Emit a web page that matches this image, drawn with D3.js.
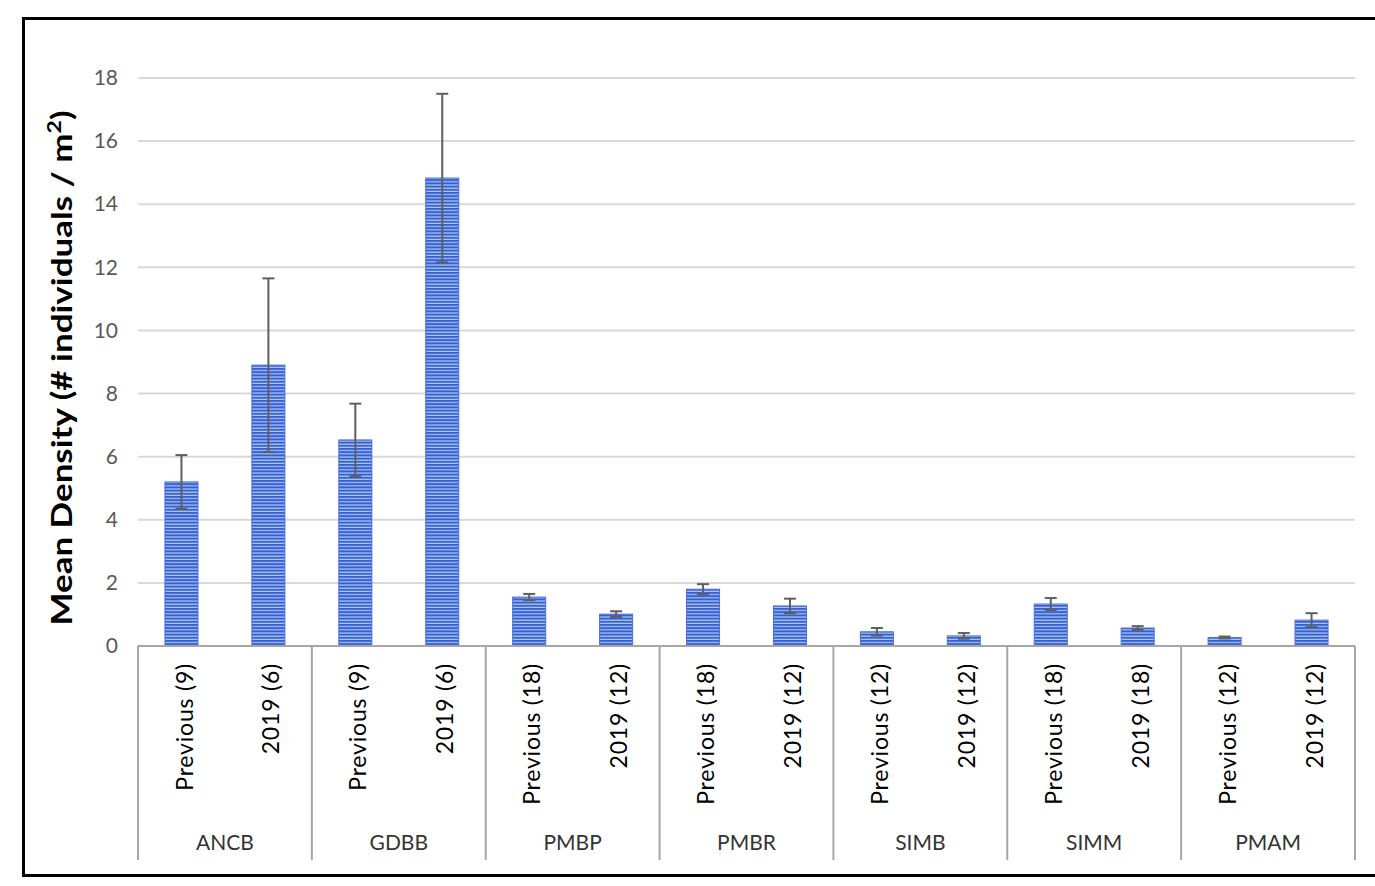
<!DOCTYPE html>
<html>
<head>
<meta charset="utf-8">
<script src="https://cdn.jsdelivr.net/npm/d3@7"></script>
<style>
  body { margin: 0; background: #fff; }
  text { font-family: Lato, "Open Sans", sans-serif; }
</style>
</head>
<body>
<div id="chart"></div>
<script>
// data
var groups = ["ANCB", "GDBB", "PMBP", "PMBR", "SIMB", "SIMM", "PMAM"];
var series = ["Previous", "2019"];
var previousLabels = ["Previous (9)", "Previous (9)", "Previous (18)", "Previous (18)", "Previous (12)", "Previous (18)", "Previous (12)"];
var recentLabels = ["2019 (6)", "2019 (6)", "2019 (12)", "2019 (12)", "2019 (12)", "2019 (18)", "2019 (12)"];
var previousMeans = [5.2, 6.53, 1.55, 1.8, 0.45, 1.33, 0.27];
var previousErr = [0.85, 1.15, 0.1, 0.16, 0.12, 0.19, 0.03];
var recentMeans = [8.9, 14.83, 1.01, 1.27, 0.32, 0.57, 0.82];
var recentErr = [2.75, 2.67, 0.09, 0.23, 0.09, 0.06, 0.22];
var yTicks = [0, 2, 4, 6, 8, 10, 12, 14, 16, 18];

var W = 1375, H = 886;
var plot = {left: 138, right: 1355, top: 78, bottom: 646};

var svg = d3.select("#chart").append("svg")
  .attr("width", W).attr("height", H);

// outer frame (right side runs off the picture)
svg.append("rect")
  .attr("x", 23.5).attr("y", 18.5)
  .attr("width", W + 10).attr("height", 857)
  .attr("fill", "#fff").attr("stroke", "#000").attr("stroke-width", 3);

// stripe pattern for bars
var pat = svg.append("defs").append("pattern")
  .attr("id", "stripes")
  .attr("patternUnits", "userSpaceOnUse")
  .attr("width", 8).attr("height", 3.2);
pat.append("rect").attr("width", 8).attr("height", 3.2).attr("fill", "#3a5dd2");
pat.append("rect").attr("y", 2).attr("width", 8).attr("height", 1.2).attr("fill", "#a8cbf6");

var rows = [];
groups.forEach(function (g, i) {
  rows.push({group: g, s: "Previous", label: previousLabels[i], mean: previousMeans[i], err: previousErr[i]});
  rows.push({group: g, s: "2019", label: recentLabels[i], mean: recentMeans[i], err: recentErr[i]});
});

var x0 = d3.scaleBand().domain(groups).range([plot.left, plot.right]);
var x1 = d3.scaleBand().domain(series).range([0, x0.bandwidth()])
  .paddingInner(0.62).paddingOuter(0.31);
var y = d3.scaleLinear().domain([0, 18]).range([plot.bottom, plot.top]);

// grid lines
svg.append("g").selectAll("line")
  .data(yTicks.slice(1))
  .enter().append("line")
  .attr("x1", plot.left).attr("x2", plot.right)
  .attr("y1", function (d) { return y(d); })
  .attr("y2", function (d) { return y(d); })
  .attr("stroke", "#d9d9d9").attr("stroke-width", 2);

// y axis labels
var yAxis = d3.axisLeft(y).tickValues(yTicks).tickSize(0).tickPadding(20);
var ya = svg.append("g")
  .attr("transform", "translate(" + plot.left + ",0)")
  .call(yAxis);
ya.select(".domain").remove();
ya.selectAll("text")
  .attr("font-size", 21).attr("fill", "#595959")
  .style("font-family", "Lato, sans-serif");

// y title
var title = svg.append("text")
  .attr("transform", "translate(72,368) rotate(-90)")
  .attr("text-anchor", "middle")
  .attr("font-size", 29).attr("font-weight", "bold").attr("fill", "#000")
  .attr("textLength", 515).attr("lengthAdjust", "spacingAndGlyphs");
title.append("tspan").text("Mean Density (# individuals / m");
title.append("tspan").attr("baseline-shift", "super").attr("font-size", 19).text("2");
title.append("tspan").text(")");

// bars
svg.append("g").selectAll("rect")
  .data(rows)
  .enter().append("rect")
  .attr("x", function (d) { return x0(d.group) + x1(d.s); })
  .attr("width", x1.bandwidth())
  .attr("y", function (d) { return y(d.mean); })
  .attr("height", function (d) { return y(0) - y(d.mean); })
  .attr("fill", "url(#stripes)")
  .attr("stroke", "#4a6fd8").attr("stroke-width", 1);

// error bars
var eb = svg.append("g").attr("stroke", "#5f5f5f").attr("stroke-width", 2);
rows.forEach(function (d) {
  var cx = x0(d.group) + x1(d.s) + x1.bandwidth() / 2;
  eb.append("line").attr("x1", cx).attr("x2", cx)
    .attr("y1", y(d.mean + d.err)).attr("y2", y(Math.max(0, d.mean - d.err)));
  [d.mean + d.err, d.mean - d.err].forEach(function (v) {
    if (v < 0) return;
    eb.append("line").attr("x1", cx - 6).attr("x2", cx + 6)
      .attr("y1", y(v)).attr("y2", y(v));
  });
});

// category axis box
var axisG = svg.append("g").attr("stroke", "#a6a6a6").attr("stroke-width", 2);
axisG.append("line")
  .attr("x1", plot.left).attr("x2", plot.right)
  .attr("y1", plot.bottom).attr("y2", plot.bottom);
groups.concat(["end"]).forEach(function (g) {
  var xx = g === "end" ? plot.right : x0(g);
  axisG.append("line")
    .attr("x1", xx).attr("x2", xx)
    .attr("y1", plot.bottom).attr("y2", 860);
});

// series labels (rotated)
svg.append("g").selectAll("text")
  .data(rows)
  .enter().append("text")
  .attr("transform", function (d) {
    var cx = x0(d.group) + x1(d.s) + x1.bandwidth() / 2 + 3;
    return "translate(" + cx + ",663) rotate(-90)";
  })
  .attr("text-anchor", "end").attr("dy", "0.35em")
  .attr("font-size", 23).attr("letter-spacing", 0.8).attr("fill", "#000")
  .text(function (d) { return d.label; });

// group labels
svg.append("g").selectAll("text")
  .data(groups)
  .enter().append("text")
  .attr("x", function (g) { return x0(g) + x0.bandwidth() / 2; })
  .attr("y", 850)
  .attr("text-anchor", "middle")
  .attr("font-size", 21).attr("fill", "#333")
  .text(function (g) { return g; });
</script>
</body>
</html>
